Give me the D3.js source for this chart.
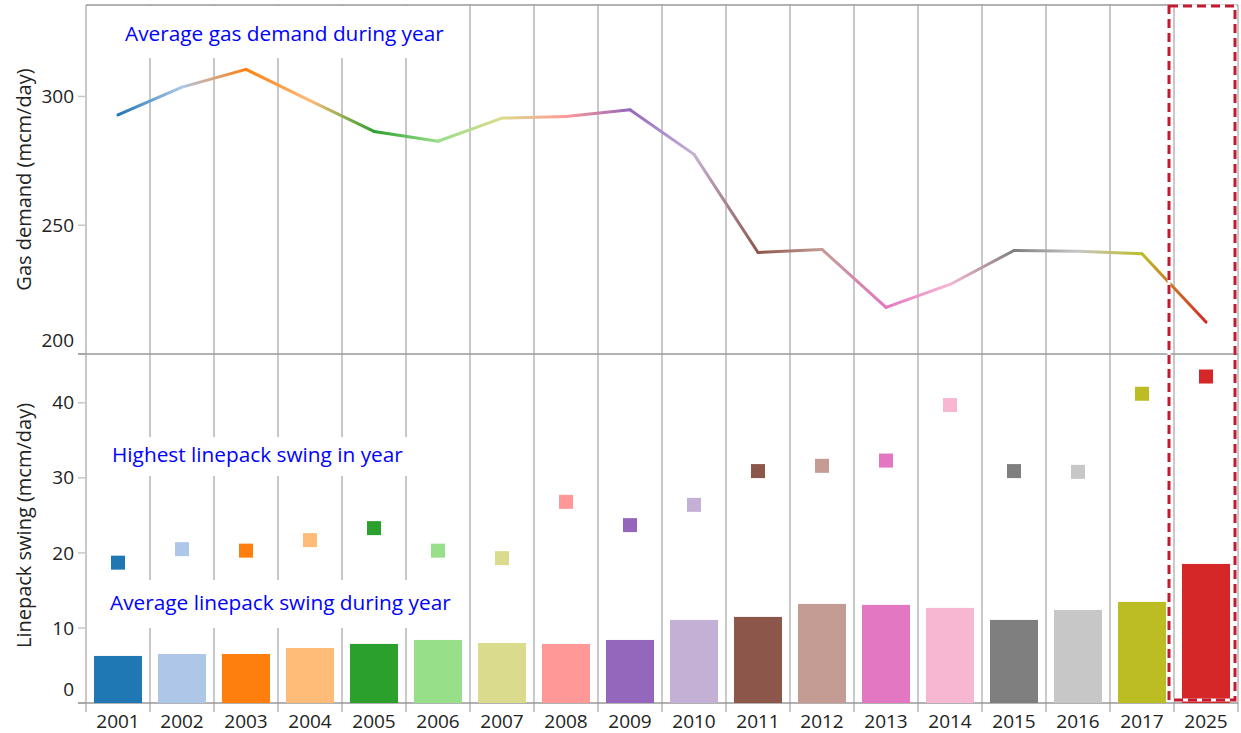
<!DOCTYPE html>
<html lang="en">
<head>
<meta charset="utf-8">
<title>Gas demand and linepack swing</title>
<script src="https://d3js.org/d3.v7.min.js"></script>
<style>
  body { margin: 0; background: #fff; }
  text { font-family: "Open Sans", sans-serif; }
</style>
</head>
<body>
<script>
  const years = ['2001', '2002', '2003', '2004', '2005', '2006', '2007', '2008', '2009',
    '2010', '2011', '2012', '2013', '2014', '2015', '2016', '2017', '2025']
  const demand = [292.8, 303.6, 310.5, 298.4, 286.4, 282.6, 291.6, 292.2, 294.8,
    277.5, 239.4, 240.6, 218.1, 227.0, 240.2, 239.9, 238.9, 212.4]
  const maxSwing = [18.7, 20.5, 20.3, 21.7, 23.3, 20.3, 19.3, 26.8, 23.7,
    26.4, 30.9, 31.6, 32.3, 39.7, 30.9, 30.8, 41.2, 43.5]
  const avgSwing = [6.27, 6.53, 6.53, 7.33, 7.87, 8.4, 8.0, 7.87, 8.4,
    11.07, 11.47, 13.2, 13.07, 12.67, 11.07, 12.4, 13.47, 18.53]
  const colors = ['#1f77b4', '#aec7e8', '#ff7f0e', '#ffbb78', '#2ca02c', '#98df8a', '#dbdb8d', '#ff9896', '#9467bd',
    '#c5b0d5', '#8c564b', '#c49c94', '#e377c2', '#f7b6d2', '#7f7f7f', '#c7c7c7', '#bcbd22', '#d62728']
  const demandTicks = [200, 250, 300]
  const swingTicks = [0, 10, 20, 30, 40]

  const m = { w: 1241, h: 733, left: 86, right: 1238, top: 5, mid: 354, bottom: 703 }

  const svg = d3.select('body').append('svg')
    .attr('width', m.w)
    .attr('height', m.h)

  const x = d3.scaleBand().domain(years).range([m.left, m.right]).padding(0)
  const xBar = d3.scaleBand().domain(years).range([m.left, m.right])
    .paddingInner(0.25).paddingOuter(0.125)
  const yTop = d3.scaleLinear().domain([200, 335.5]).range([m.mid, m.top])
  const yBot = d3.scaleLinear().domain([0, 46.5]).range([m.bottom, m.mid])
  const cx = d => x(d) + x.bandwidth() / 2

  // vertical grid at band edges
  const edges = years.map(d => x(d)).concat([m.right])
  svg.append('g').selectAll('line')
    .data(edges)
    .enter()
    .append('line')
    .attr('x1', d => d).attr('x2', d => d)
    .attr('y1', m.top).attr('y2', m.bottom + 9)
    .attr('stroke', '#c8c8c8')
    .attr('stroke-width', 2)

  // y ticks
  const tickG = svg.append('g')
  tickG.selectAll('.tt')
    .data(demandTicks)
    .enter()
    .append('line')
    .attr('x1', m.left - 8).attr('x2', m.left)
    .attr('y1', d => yTop(d)).attr('y2', d => yTop(d))
    .attr('stroke', '#c8c8c8').attr('stroke-width', 1.5)
  tickG.selectAll('.bt')
    .data(swingTicks)
    .enter()
    .append('line')
    .attr('x1', m.left - 8).attr('x2', m.left)
    .attr('y1', d => yBot(d)).attr('y2', d => yBot(d))
    .attr('stroke', '#c8c8c8').attr('stroke-width', 1.5)

  // tick labels (lowest label pushed up off the edge)
  tickG.selectAll('.tl')
    .data(demandTicks)
    .enter()
    .append('text')
    .attr('x', m.left - 12)
    .attr('y', d => yTop(d) - (d === 200 ? 14 : 0))
    .attr('dy', '0.35em')
    .attr('text-anchor', 'end')
    .attr('font-size', 19)
    .attr('fill', '#222')
    .text(d => d)
  tickG.selectAll('.bl')
    .data(swingTicks)
    .enter()
    .append('text')
    .attr('x', m.left - 12)
    .attr('y', d => yBot(d) - (d === 0 ? 14 : 0))
    .attr('dy', '0.35em')
    .attr('text-anchor', 'end')
    .attr('font-size', 19)
    .attr('fill', '#222')
    .text(d => d)

  // x labels
  svg.append('g').selectAll('text')
    .data(years)
    .enter()
    .append('text')
    .attr('x', d => cx(d))
    .attr('y', m.bottom + 18)
    .attr('dy', '0.35em')
    .attr('text-anchor', 'middle')
    .attr('font-size', 19)
    .attr('fill', '#222')
    .text(d => d)

  // axis titles
  svg.append('text')
    .attr('transform', `translate(24,${(m.top + m.mid) / 2}) rotate(-90)`)
    .attr('dy', '0.35em')
    .attr('text-anchor', 'middle')
    .attr('font-size', 20)
    .attr('fill', '#222')
    .text('Gas demand (mcm/day)')
  svg.append('text')
    .attr('transform', `translate(24,${(m.mid + m.bottom) / 2 - 3}) rotate(-90)`)
    .attr('dy', '0.35em')
    .attr('text-anchor', 'middle')
    .attr('font-size', 20)
    .attr('fill', '#222')
    .text('Linepack swing (mcm/day)')

  // frame lines
  svg.append('line').attr('x1', m.left).attr('x2', m.right).attr('y1', m.top).attr('y2', m.top)
    .attr('stroke', '#999').attr('stroke-width', 1.5)
  svg.append('line').attr('x1', m.left - 8).attr('x2', m.right).attr('y1', m.mid).attr('y2', m.mid)
    .attr('stroke', '#999').attr('stroke-width', 1.5)
  svg.append('line').attr('x1', m.left - 8).attr('x2', m.right).attr('y1', m.bottom).attr('y2', m.bottom)
    .attr('stroke', '#999').attr('stroke-width', 1.5)

  // annotation labels with white boxes
  const notes = [
    { text: 'Average gas demand during year', x: 125, y: 34, y0: 6, y1: 58 },
    { text: 'Highest linepack swing in year', x: 112, y: 455, y0: 437, y1: 476 },
    { text: 'Average linepack swing during year', x: 110, y: 603, y0: 580, y1: 628 }
  ]
  notes.forEach(function (n) {
    const box = svg.append('rect').attr('fill', '#fff')
    const t = svg.append('text')
      .attr('x', n.x).attr('y', n.y)
      .attr('dy', '0.35em')
      .attr('font-size', 20.8)
      .attr('fill', '#0000ff')
      .text(n.text)
    const bb = t.node().getBBox()
    box.attr('x', bb.x - 8).attr('width', bb.width + 16)
      .attr('y', n.y0).attr('height', n.y1 - n.y0)
  })

  // gradient line segments
  const defs = svg.append('defs')
  for (let i = 0; i < years.length - 1; i++) {
    const x1 = cx(years[i]), x2 = cx(years[i + 1])
    const grad = defs.append('linearGradient')
      .attr('id', 'seg' + i)
      .attr('gradientUnits', 'userSpaceOnUse')
      .attr('x1', x1).attr('x2', x2).attr('y1', 0).attr('y2', 0)
    grad.append('stop').attr('offset', '0%').attr('stop-color', colors[i])
    grad.append('stop').attr('offset', '100%').attr('stop-color', colors[i + 1])
    svg.append('line')
      .attr('x1', x1).attr('y1', yTop(demand[i]))
      .attr('x2', x2).attr('y2', yTop(demand[i + 1]))
      .attr('stroke', `url(#seg${i})`)
      .attr('stroke-width', 3)
      .attr('stroke-linecap', 'round')
  }

  // average swing bars
  svg.append('g').selectAll('rect')
    .data(years)
    .enter()
    .append('rect')
    .attr('x', d => xBar(d))
    .attr('width', xBar.bandwidth())
    .attr('y', (d, i) => yBot(avgSwing[i]))
    .attr('height', (d, i) => m.bottom - yBot(avgSwing[i]))
    .attr('fill', (d, i) => colors[i])

  // highest swing squares
  svg.append('g').selectAll('rect')
    .data(years)
    .enter()
    .append('rect')
    .attr('x', d => cx(d) - 7)
    .attr('y', (d, i) => yBot(maxSwing[i]) - 7)
    .attr('width', 14).attr('height', 14)
    .attr('fill', (d, i) => colors[i])

  // highlight box around 2025
  const hx = x('2025') - 5
  const hw = m.right - 3 - hx, hh = m.bottom - 3 - m.top - 1
  svg.append('rect')
    .attr('x', hx).attr('y', m.top + 1)
    .attr('width', hw).attr('height', hh)
    .attr('fill', 'none').attr('stroke', '#fff').attr('stroke-width', 3)
  svg.append('rect')
    .attr('x', hx).attr('y', m.top + 1)
    .attr('width', hw).attr('height', hh)
    .attr('fill', 'none').attr('stroke', '#c41a2e').attr('stroke-width', 3)
    .attr('stroke-dasharray', '9,5')
</script>
</body>
</html>
